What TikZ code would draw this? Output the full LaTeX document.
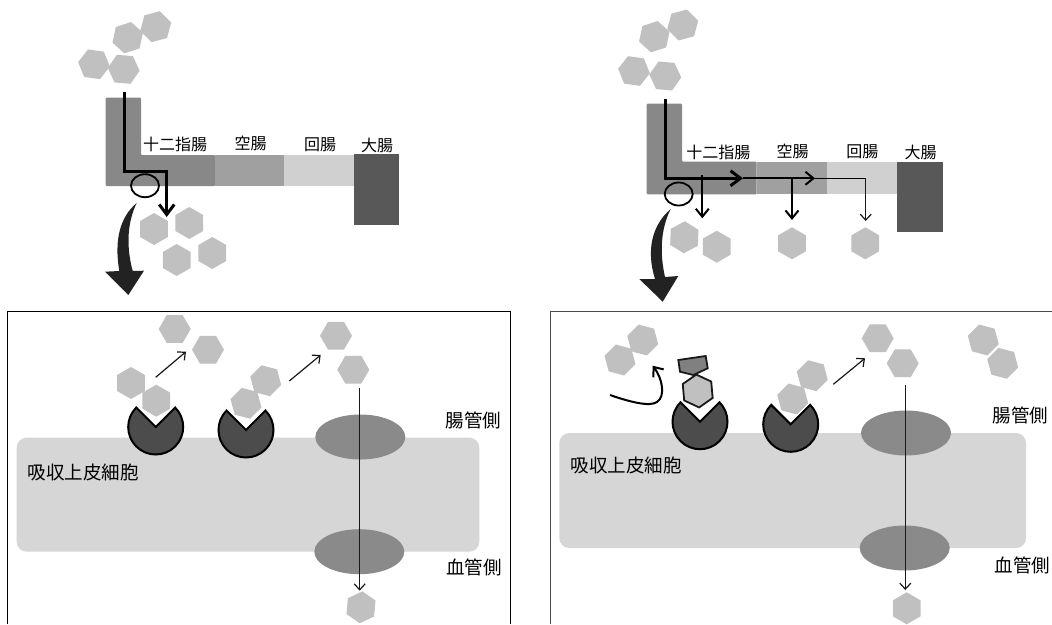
\documentclass[tikz,border=0pt]{standalone}
\usepackage{fontspec}
\usepackage{tikz}
\usetikzlibrary{shapes.geometric,arrows.meta}
\newfontfamily\jpfont{Noto Sans CJK JP}
\definecolor{gutdark}{RGB}{136, 136, 136}
\definecolor{gutmid}{RGB}{160, 160, 160}
\definecolor{gutlight}{RGB}{208, 208, 208}
\definecolor{colongray}{RGB}{88, 88, 88}
\definecolor{hexgray}{RGB}{192, 192, 192}
\definecolor{cellgray}{RGB}{214, 214, 214}
\definecolor{portgray}{RGB}{138, 138, 138}
\definecolor{recepgray}{RGB}{76, 76, 76}
\definecolor{blockgray}{RGB}{128, 128, 128}
\definecolor{bigarrow}{RGB}{34, 34, 34}
\tikzset{
  hexa/.style={regular polygon, regular polygon sides=6, minimum size=32pt, inner sep=0pt, fill=hexgray},
  port/.style={ellipse, minimum width=90pt, minimum height=45pt, inner sep=0pt, fill=portgray},
  lumen/.style={ellipse, minimum width=28pt, minimum height=23pt, inner sep=0pt, draw=black, line width=1.8pt},
  gutlabel/.style={font=\jpfont\fontsize{16}{16}\selectfont, inner sep=0pt},
  celllabel/.style={font=\jpfont\fontsize{18.5}{19}\selectfont, inner sep=0pt},
  recep/.style={draw=black, line width=2pt, fill=recepgray},
  thinarrow/.style={-{Straight Barb[length=6pt,width=11pt]}, line width=1.2pt, draw=black!90},
  medarrow/.style={-{Straight Barb[length=8pt,width=13pt]}, line width=2pt},
  fatarrow/.style={-{Straight Barb[length=10pt,width=15pt]}, line width=3pt},
}
\newcommand{\receptor}[1]{\draw[recep] (#1) -- ++(-45:27.5) arc[start angle=-45, end angle=225, radius=27.5] -- cycle;}
\begin{document}
\begin{tikzpicture}[x=1pt,y=-1pt]
  \useasboundingbox (0,0) rectangle (1052,624);
  \fill[white] (0,0) rectangle (1052,624);

  % small intestine, first case
  \fill[gutdark, rounded corners=1pt] (105.7,97.7) -- (141,97.7) -- (141,155) -- (215,155) -- (215,186) -- (105.7,186) -- cycle;
  \fill[gutmid] (215,155) rectangle (284,186);
  \fill[gutlight] (284,155) rectangle (354.3,186);
  \fill[colongray] (354.3,154) rectangle (399.3,225);
  \node[gutlabel] (duoA) at (175,144) {十二指腸};
  \node[gutlabel] (jejA) at (250.7,143) {空腸};
  \node[gutlabel] (ileA) at (320,145) {回腸};
  \node[gutlabel] (colA) at (377,145) {大腸};
  \node[hexa,rotate=15] (a1) at (155.7,26.7) {};
  \node[hexa,rotate=18] (a2) at (127.7,37.7) {};
  \node[hexa,rotate=-8] (a3) at (94,64.3) {};
  \node[hexa,rotate=-5] (a4) at (123.7,69.3) {};
  \node[hexa,rotate=30] (a5) at (154,229) {};
  \node[hexa,rotate=30] (a6) at (189.3,223) {};
  \node[hexa,rotate=30] (a7) at (176.7,260) {};
  \node[hexa,rotate=30] (a8) at (212.3,253) {};
  \coordinate (inA) at (124,92);
  \coordinate (bendA) at (124,171);
  \coordinate (cornerA) at (166.7,171);
  \coordinate (outA) at (166.7,217);
  \draw[fatarrow] (inA) -- (bendA) -- (cornerA) -- (outA);
  \node[lumen] (holeA) at (145,185.7) {};
  \fill[bigarrow] (136.7,203) .. controls (120,217) and (114,240) .. (119.3,271) -- (105,271.7) -- (128.3,295) -- (144,270.7) -- (132.7,271) .. controls (127,250) and (126,225) .. (136.7,203) -- cycle;

  % small intestine, second case
  \fill[gutdark, rounded corners=1pt] (646.7,103.7) -- (682,103.7) -- (682,161.7) -- (756.7,161.7) -- (756.7,194.3) -- (646.7,194.3) -- cycle;
  \fill[gutmid] (756.7,161.7) rectangle (826.7,194.3);
  \fill[gutlight] (826.7,161.7) rectangle (897.3,194.3);
  \fill[colongray] (897.3,161.7) rectangle (942.7,232.3);
  \node[gutlabel] (duoB) at (718.3,152) {十二指腸};
  \node[gutlabel] (jejB) at (792.7,151) {空腸};
  \node[gutlabel] (ileB) at (862.3,152) {回腸};
  \node[gutlabel] (colB) at (920.7,152) {大腸};
  \node[hexa,rotate=15] (b1) at (682.7,25) {};
  \node[hexa,rotate=18] (b2) at (654.3,36.7) {};
  \node[hexa,rotate=-8] (b3) at (634,71) {};
  \node[hexa,rotate=-5] (b4) at (665.3,76) {};
  \node[hexa,rotate=28] (b5) at (684.3,237.3) {};
  \node[hexa,rotate=30] (b6) at (716.7,246.7) {};
  \node[hexa,rotate=30] (b7) at (792,243.3) {};
  \node[hexa,rotate=30] (b8) at (865.3,243.3) {};
  \coordinate (inB) at (665,99);
  \coordinate (bendB) at (665,178.3);
  \coordinate (stepB) at (743,178.3);
  \coordinate (stepC) at (815,178.3);
  \coordinate (cornerB) at (865.7,178.3);
  \coordinate (outB) at (865.7,221);
  \coordinate (dropA) at (702.3,175);
  \coordinate (dropAend) at (702.3,218.3);
  \coordinate (dropB) at (792,178.3);
  \coordinate (dropBend) at (792,220);
  \draw[line width=1pt] (stepC) -- (cornerB);
  \draw[thinarrow] (cornerB) -- (outB);
  \draw[medarrow] (stepB) -- (stepC);
  \draw[fatarrow] (inB) -- (bendB) -- (stepB);
  \draw[medarrow] (dropA) -- (dropAend);
  \draw[medarrow] (dropB) -- (dropBend);
  \node[lumen] (holeB) at (678.7,194) {};
  \fill[bigarrow] (670.7,209) .. controls (652,225) and (646,250) .. (655,279) -- (639.3,279) -- (662.7,301.7) -- (678.3,276) -- (665,277) .. controls (660,255) and (660,230) .. (670.7,209) -- cycle;

  % epithelial cell, first case
  \draw[line width=1pt] (7,624) -- (7,311) -- (510,311) -- (510,624);
  \fill[cellgray, rounded corners=10pt] (16.7,437.7) rectangle (479.3,551.7);
  \node[port] (topA) at (360.3,437) {};
  \node[port] (botA) at (359.3,551.7) {};
  \node[celllabel] (cellA) at (83,472.3) {吸収上皮細胞};
  \node[celllabel] (lumA) at (473.3,420.7) {腸管側};
  \node[celllabel] (bldA) at (474,567.7) {血管側};
  \receptor{155.7,427}
  \receptor{246,430}
  \node[hexa] (c1) at (174.7,329) {};
  \node[hexa] (c2) at (208,349.7) {};
  \node[hexa,rotate=30] (c3) at (131,383) {};
  \node[hexa,rotate=30] (c4) at (156.3,400.7) {};
  \node[hexa,rotate=-15] (c5) at (265.7,380.7) {};
  \node[hexa,rotate=-15] (c6) at (246,403.3) {};
  \node[hexa] (c7) at (336,335.7) {};
  \node[hexa] (c8) at (353.3,369.7) {};
  \node[hexa,rotate=25] (c9) at (361,607.3) {};
  \coordinate (upA) at (155.7,377.3);
  \coordinate (upAend) at (186,351.7);
  \coordinate (upB) at (289.3,381);
  \coordinate (upBend) at (320.7,355);
  \coordinate (thruA) at (359.7,387.7);
  \coordinate (thruAend) at (359.7,590.7);
  \draw[thinarrow] (upA) -- (upAend);
  \draw[thinarrow] (upB) -- (upBend);
  \draw[thinarrow] (thruA) -- (thruAend);

  % epithelial cell, second case
  \draw[line width=1pt, draw=black!70] (550.7,624) -- (550.7,311) -- (1052,311);
  \fill[cellgray, rounded corners=10pt] (559.3,433) rectangle (1026,548);
  \node[port] (topB) at (906,433) {};
  \node[port] (botB) at (904.7,548) {};
  \node[celllabel] (cellB) at (626.3,465.7) {吸収上皮細胞};
  \node[celllabel] (lumB) at (1020.7,415.7) {腸管側};
  \node[celllabel] (bldB) at (1022.3,565) {血管側};
  \receptor{700,421.7}
  \receptor{790.7,424.3}
  \node[hexa,rotate=-15] (d1) at (642.7,340) {};
  \node[hexa,rotate=-15] (d2) at (620,360) {};
  \node[hexa] (d3) at (877.7,338.3) {};
  \node[hexa] (d4) at (902.7,363.3) {};
  \node[hexa,rotate=-15] (d5) at (812.3,375.7) {};
  \node[hexa,rotate=-15] (d6) at (792.7,399) {};
  \node[hexa,rotate=-15] (d7) at (983.3,340) {};
  \node[hexa,rotate=-15] (d8) at (1002.7,363.3) {};
  \node[hexa,rotate=30] (d9) at (906.7,608.3) {};
  \node[hexa, draw=black!90, line width=1.8pt, minimum size=33pt, rotate=35] (drug) at (697.7,391) {};
  \draw[line width=1.8pt, draw=black!90, fill=blockgray] (678.3,360) -- (705.7,356) -- (707.7,368.3) -- (693.3,375) -- (680,371.7) -- cycle;
  \coordinate (upC) at (833.3,384.3);
  \coordinate (upCend) at (865,358.3);
  \coordinate (thruB) at (905.3,385);
  \coordinate (thruBend) at (905.3,590);
  \coordinate (backA) at (610,395);
  \coordinate (backB) at (652.7,365.7);
  \draw[thinarrow] (upC) -- (upCend);
  \draw[thinarrow] (thruB) -- (thruBend);
  \draw[-{Straight Barb[length=8pt,width=13pt]}, line width=2pt] (backA) .. controls (630,402) and (650,407) .. (657,402) .. controls (666,396) and (662,378) .. (backB);
\end{tikzpicture}
\end{document}
